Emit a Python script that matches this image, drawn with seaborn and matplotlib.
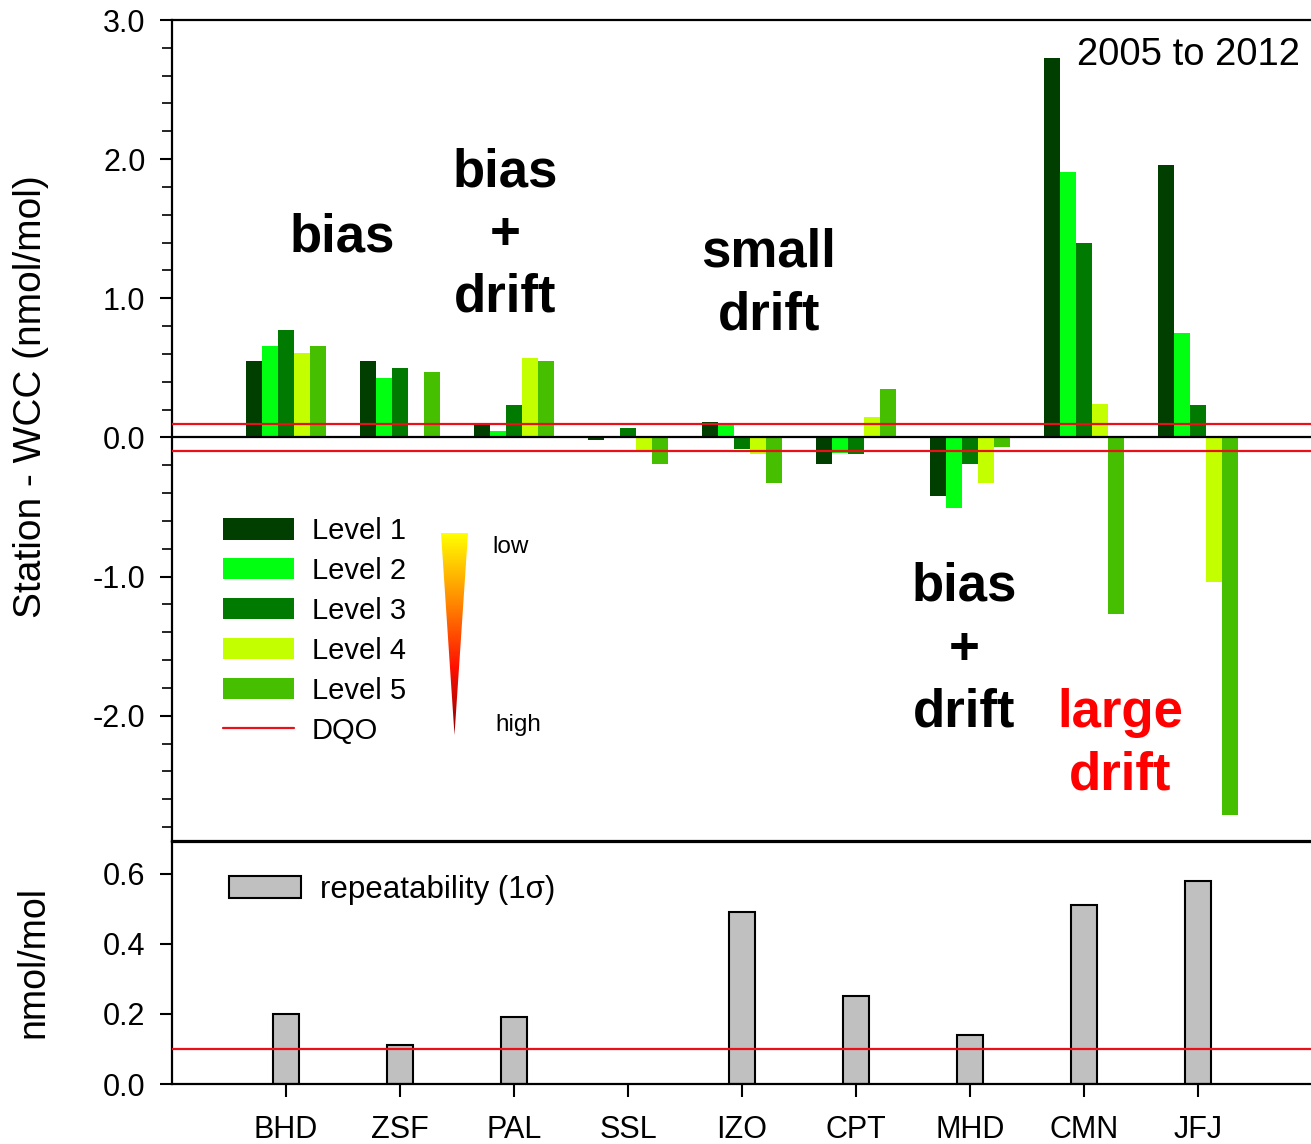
import numpy as np
import pandas as pd
import matplotlib
matplotlib.use("Agg")
import matplotlib.pyplot as plt
from matplotlib.patches import Patch, Polygon
from matplotlib.lines import Line2D
from matplotlib.colors import LinearSegmentedColormap
from matplotlib.ticker import FixedLocator, MultipleLocator, FormatStrFormatter
import seaborn as sns

# ---- data -------------------------------------------------------------
stations = ["BHD", "ZSF", "PAL", "SSL", "IZO", "CPT", "MHD", "CMN", "JFJ"]
levels = ["Level 1", "Level 2", "Level 3", "Level 4", "Level 5"]
level_1 = [0.55, 0.55, 0.09, -0.02, 0.11, -0.19, -0.42, 2.73, 1.96]
level_2 = [0.66, 0.43, 0.05, np.nan, 0.10, -0.11, -0.51, 1.91, 0.75]
level_3 = [0.77, 0.50, 0.23, 0.07, -0.08, -0.12, -0.19, 1.40, 0.23]
level_4 = [0.61, np.nan, 0.57, -0.09, -0.12, 0.15, -0.33, 0.24, -1.04]
level_5 = [0.66, 0.47, 0.55, -0.19, -0.33, 0.35, -0.07, -1.27, -2.71]
repeatability = [0.20, 0.11, 0.19, np.nan, 0.49, 0.25, 0.14, 0.51, 0.58]
dqo_bias = 0.1
dqo_repeat = 0.1
period_label = "2005 to 2012"

level_colors = ["#003F00", "#00FF10", "#007A00", "#C4FF00", "#45BF00"]
dqo_color = "#E8101A"
rep_color = "#C0C0C0"

# ---- style ------------------------------------------------------------
sns.set_style("white")
plt.rcParams["font.family"] = ["Liberation Sans", "DejaVu Sans"]
plt.rcParams["axes.unicode_minus"] = False
for key in ("text.color", "axes.labelcolor", "xtick.color", "ytick.color",
            "axes.edgecolor"):
    plt.rcParams[key] = "black"

W, H = 1311, 1144
fig = plt.figure(figsize=(W / 100, H / 100), dpi=100)
fig.patch.set_facecolor("white")

ax_top = fig.add_axes([172 / W, 1 - 841 / H, 1140 / W, 821 / H])
ax_bot = fig.add_axes([172 / W, 1 - 1084 / H, 1140 / W, 242 / H])

# ---- upper panel: station minus WCC per level ------------------------------
series = [level_1, level_2, level_3, level_4, level_5]
df = pd.DataFrame({
    "station": np.repeat(stations, len(levels)),
    "level": levels * len(stations),
    "value": [series[j][i] for i in range(len(stations)) for j in range(len(levels))],
})
sns.barplot(data=df, x="station", y="value", hue="level", order=stations,
            hue_order=levels, palette=level_colors, saturation=1, width=0.7,
            errorbar=None, linewidth=0, legend=False, ax=ax_top)

ax_top.axhline(0, color="black", lw=1.6, zorder=5)
for v in (dqo_bias, -dqo_bias):
    ax_top.axhline(v, color=dqo_color, lw=1.6, zorder=6)

ax_top.set_xlim(-1, len(stations))
ax_top.set_ylim(-2.9, 3.0)
ax_top.yaxis.set_major_locator(FixedLocator([-2, -1, 0, 1, 2, 3]))
ax_top.yaxis.set_minor_locator(MultipleLocator(0.2))
ax_top.yaxis.set_major_formatter(FormatStrFormatter("%.1f"))
ax_top.tick_params(axis="y", which="major", direction="out", length=9, width=1.5,
                   pad=10, labelsize=22, left=True)
ax_top.tick_params(axis="y", which="minor", direction="out", length=7, width=1.2,
                   left=True)
ax_top.tick_params(axis="x", bottom=False, labelbottom=False)
ax_top.set_xlabel("")
ax_top.set_ylabel("")
for side in ("left", "top", "bottom"):
    ax_top.spines[side].set_linewidth(1.6)
    ax_top.spines[side].set_color("black")
ax_top.spines["right"].set_visible(False)

# legend for levels
handles = [Patch(facecolor=c, edgecolor="none") for c in level_colors]
handles.append(Line2D([], [], color=dqo_color, lw=1.6))
ax_top.legend(handles, levels + ["DQO"], loc="upper left",
              bbox_to_anchor=((223 - 172) / 1140, (841 - 517) / 821),
              frameon=False, fontsize=21, handlelength=2.45, handleheight=0.75,
              handletextpad=0.6, labelspacing=0.41, borderpad=0, borderaxespad=0)

# gradient wedge (low -> high)
tri_ax = fig.add_axes([441 / W, 1 - 735 / H, 27 / W, 202 / H])
wedge_cmap = LinearSegmentedColormap.from_list(
    "wedge", ["#8B0000", "#FF1000", "#FF8C00", "#FFFF00"])
grad = np.linspace(0, 1, 256).reshape(-1, 1)
img = tri_ax.imshow(grad, cmap=wedge_cmap, origin="lower", aspect="auto",
                    extent=[0, 1, 0, 1])
wedge = Polygon([(0, 1), (1, 1), (0.5, 0)], closed=True,
                transform=tri_ax.transData, facecolor="none", edgecolor="none")
tri_ax.add_patch(wedge)
img.set_clip_path(wedge)
tri_ax.set_xlim(0, 1)
tri_ax.set_ylim(0, 1)
tri_ax.axis("off")
fig.text(492 / W, 1 - 547 / H, "low", fontsize=17.5, ha="left", va="center")
fig.text(495 / W, 1 - 725 / H, "high", fontsize=17.5, ha="left", va="center")

# annotations
bold = dict(fontsize=38, fontweight="bold", ha="center", va="center",
            transform=ax_top.transAxes, linespacing=1.33)
ax_top.text(0.149, 0.735, "bias", **bold)
ax_top.text(0.292, 0.738, "bias\n+\ndrift", **bold)
ax_top.text(0.5237, 0.678, "small\ndrift", **bold)
ax_top.text(0.6947, 0.233, "bias\n+\ndrift", **bold)
ax_top.text(0.8316, 0.118, "large\ndrift", color="#FF0000", **bold)
ax_top.text(0.7939, 0.9574, period_label, fontsize=27.5, ha="left", va="center",
            transform=ax_top.transAxes)

fig.text(31 / W, 1 - 397 / H, "Station - WCC (nmol/mol)", rotation=90,
         fontsize=28, ha="center", va="center")

# ---- lower panel: repeatability ---------------------------------------------
sns.barplot(x=stations, y=repeatability, order=stations, color=rep_color,
            saturation=1, width=0.23, edgecolor="black", linewidth=1.5,
            errorbar=None, ax=ax_bot)
ax_bot.axhline(dqo_repeat, color=dqo_color, lw=1.6, zorder=6)
ax_bot.set_xlim(-1, len(stations))
ax_bot.set_ylim(0, 0.69)
ax_bot.yaxis.set_major_locator(FixedLocator([0.0, 0.2, 0.4, 0.6]))
ax_bot.yaxis.set_major_formatter(FormatStrFormatter("%.1f"))
ax_bot.tick_params(axis="y", direction="out", length=9, width=1.5, pad=10,
                   labelsize=22, left=True)
ax_bot.tick_params(axis="x", direction="out", length=9, width=1.5, pad=13,
                   labelsize=22, bottom=True)
ax_bot.set_xlabel("")
ax_bot.set_ylabel("")
for side in ("left", "top", "bottom"):
    ax_bot.spines[side].set_linewidth(1.6)
    ax_bot.spines[side].set_color("black")
ax_bot.spines["right"].set_visible(False)

ax_bot.legend([Patch(facecolor=rep_color, edgecolor="black", lw=1.5)],
              ["repeatability (1\u03c3)"], loc="upper left",
              bbox_to_anchor=((229 - 172) / 1140, (1084 - 875) / 242),
              frameon=False, fontsize=22.5, handlelength=2.3, handleheight=0.7,
              handletextpad=0.6, borderpad=0, borderaxespad=0)

fig.text(33 / W, 1 - 962 / H, "nmol/mol", rotation=90, fontsize=27,
         ha="center", va="center")

fig.savefig("out.png", dpi=100, facecolor="white")
